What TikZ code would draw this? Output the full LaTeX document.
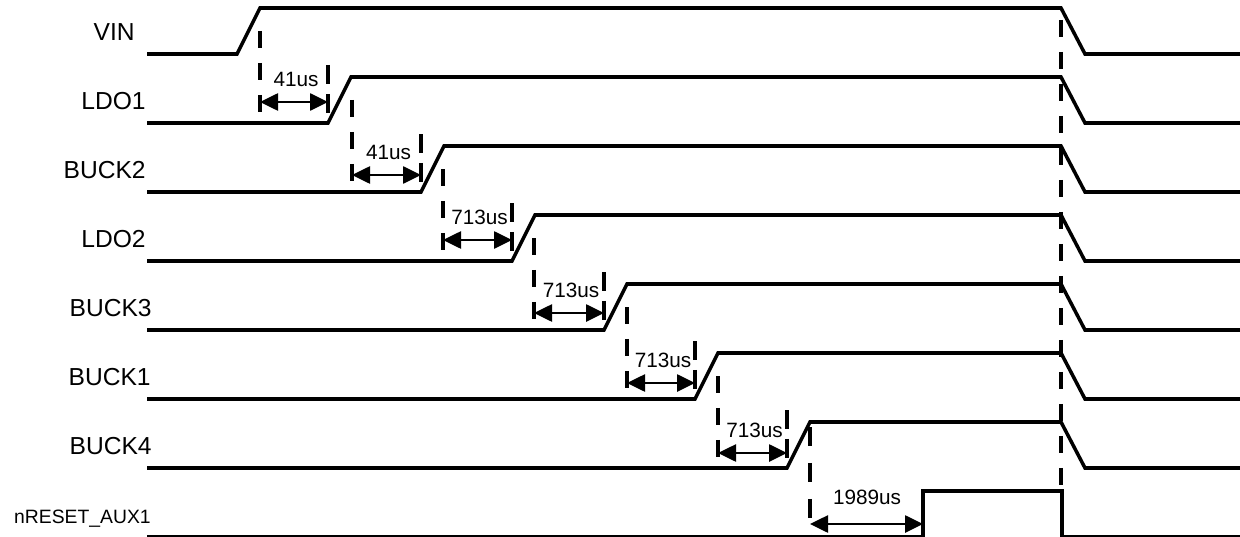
\documentclass[tikz,border=0pt]{standalone}
\usepackage{fontspec}
\setmainfont{Liberation Sans}
\usetikzlibrary{arrows.meta}
\tikzset{
	signal/.style={line width=2pt, line join=miter},
	guide/.style={line width=1.9pt, dash pattern=on 0.34cm off 0.30cm},
	tickmark/.style={line width=1.9pt, dash pattern=on 0.38cm off 0.20cm},
	delayarrow/.style={{Triangle[length=0.36cm,width=0.34cm]}-{Triangle[length=0.36cm,width=0.34cm]}, line width=1.5pt},
	siglabel/.style={font=\fontsize{14}{16}\selectfont, inner sep=0pt, anchor=east},
	delaylabel/.style={font=\fontsize{11.8}{14}\selectfont, inner sep=0pt}
}

\begin{document}
\begin{tikzpicture}[x=0.02cm, y=-0.02cm]
	\useasboundingbox (0,0) rectangle (1240,537);
	
	%% ── Rails: label, rise, hold, fall ──────────────────────────────
	\foreach \nm/\lo/\rs/\lx in {VIN/54/237/135, LDO1/123/328/146,
		BUCK2/192/421/146, LDO2/261/512/146, BUCK3/330/604/152,
		BUCK1/399/695/151, BUCK4/468/787/152}
	{
		\node[siglabel] (lab-\nm) at (\lx,\lo-22) {\nm};
		\draw[signal] (147,\lo) -- (\rs,\lo) -- (\rs+23,\lo-46)
		-- (1061,\lo-46) -- (1085,\lo) -- (1240,\lo);
	}
	
	%% ── Reset output ────────────────────────────────────────────────
	\node[siglabel, font=\fontsize{11}{13}\selectfont] (lab-rst) at (151,519) {nRESET\_AUX1};
	\draw[signal] (147,537) -- (923,537) -- (923,491) -- (1062,491)
	-- (1062,537) -- (1240,537);
	
	%% ── Delay markers between rails ─────────────────────────────────
	\foreach \i/\xl/\xr/\lo/\ay/\txt in {1/260/328/123/102/41us,
		2/352/421/192/175/41us, 3/443/512/261/240/713us,
		4/534/604/330/313/713us, 5/627/695/399/383/713us,
		6/718/787/468/453/713us}
	{
		\draw[guide] (\xl,\lo-92) -- (\xl,\lo-10);
		\draw[tickmark] (\xr,\lo-58) -- (\xr,\lo-10);
		\coordinate (d\i-a) at (\xl,\ay);
		\coordinate (d\i-b) at (\xr,\ay);
		\draw[delayarrow] (d\i-a) -- (d\i-b);
		\node[delaylabel] (t\i) at ({(\xl+\xr)/2+2},\ay-23) {\txt};
	}
	
	%% ── Reset delay ─────────────────────────────────────────────────
	\draw[guide, dash pattern=on 0.38cm off 0.34cm] (810,427) -- (810,537);
	\coordinate (d7-a) at (810,524);
	\coordinate (d7-b) at (923,524);
	\draw[delayarrow] (d7-a) -- (d7-b);
	\node[delaylabel] (t7) at (867,497) {1989us};
	
	%% ── Power-off line ──────────────────────────────────────────────
	\draw[guide] (1061,20) -- (1061,491);
\end{tikzpicture}
\end{document}
